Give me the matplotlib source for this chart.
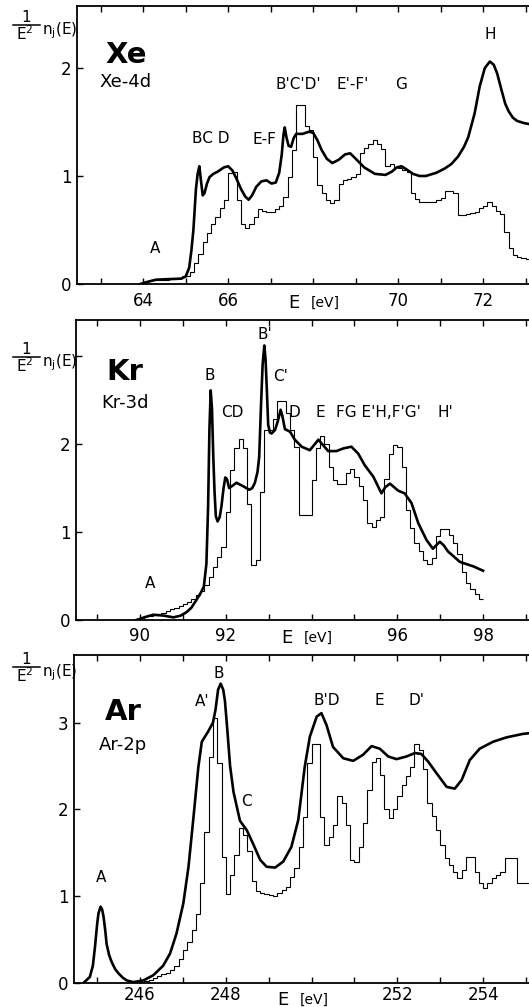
import numpy as np
import matplotlib
matplotlib.use('Agg')
from matplotlib import pyplot as plt
from matplotlib.lines import Line2D

W, H = 529, 1007
BIN = 0.1

# ---- Xe 4d ----
xe_calc_e = [63.93, 64.1, 64.3, 64.6, 64.9, 65.0, 65.08, 65.13, 65.18, 65.24, 65.28, 65.32,
             65.36, 65.4, 65.44, 65.5, 65.56, 65.65, 65.75, 65.9, 66.0, 66.1, 66.2, 66.3,
             66.4, 66.48, 66.56, 66.66, 66.78, 66.9, 67.02, 67.12, 67.2, 67.26, 67.3, 67.33,
             67.37, 67.42, 67.48, 67.54, 67.6, 67.75, 67.9, 68.0, 68.1, 68.2, 68.32, 68.45,
             68.6, 68.75, 68.87, 69.0, 69.2, 69.45, 69.7, 69.85, 69.97, 70.08, 70.2, 70.35,
             70.5, 70.65, 70.9, 71.1, 71.25, 71.41, 71.55, 71.65, 71.8, 71.92, 72.04, 72.16,
             72.25, 72.33, 72.43, 72.52, 72.6, 72.7, 72.8, 72.96, 73.1]
xe_calc_v = [0.0, 0.02, 0.04, 0.045, 0.05, 0.07, 0.15, 0.3, 0.5, 0.88, 1.02, 1.09,
             0.95, 0.82, 0.84, 0.93, 0.99, 1.02, 1.04, 1.08, 1.09, 1.05, 0.97, 0.88,
             0.81, 0.78, 0.82, 0.90, 0.95, 0.96, 0.93, 0.94, 1.03, 1.2, 1.38, 1.45,
             1.36, 1.28, 1.27, 1.35, 1.39, 1.39, 1.41, 1.40, 1.33, 1.24, 1.16, 1.12,
             1.15, 1.20, 1.21, 1.16, 1.08, 1.02, 1.01, 1.04, 1.08, 1.09, 1.06, 1.02,
             1.00, 1.00, 1.03, 1.07, 1.11, 1.18, 1.27, 1.36, 1.58, 1.83, 2.00, 2.06,
             2.03, 1.95, 1.80, 1.67, 1.60, 1.54, 1.51, 1.49, 1.48]
xe_hist_start = 64.0
xe_hist_v = [0.02, 0.03, 0.04, 0.04, 0.04, 0.04, 0.05, 0.05, 0.06, 0.07,
             0.07, 0.11, 0.19, 0.28, 0.39, 0.47, 0.56, 0.62, 0.70, 0.78,
             1.03, 1.04, 0.78, 0.56, 0.52, 0.56, 0.62, 0.69, 0.68, 0.67,
             0.67, 0.69, 0.72, 0.81, 0.99, 1.24, 1.66, 1.66, 1.46, 1.43,
             1.18, 0.92, 0.84, 0.78, 0.75, 0.78, 0.93, 0.96, 0.97, 0.99,
             1.02, 1.21, 1.26, 1.30, 1.33, 1.30, 1.25, 1.09, 1.11, 1.08,
             1.07, 1.06, 1.04, 0.84, 0.79, 0.76, 0.76, 0.76, 0.76, 0.78,
             0.80, 0.86, 0.86, 0.84, 0.64, 0.64, 0.65, 0.66, 0.67, 0.70,
             0.72, 0.76, 0.72, 0.68, 0.65, 0.48, 0.33, 0.27, 0.25, 0.24,
             0.23]
xe_xticks = list(range(63, 74))
xe_xlabels = ['', '64', '', '66', '', '', '', '70', '', '72', '']
xe_yticks = [0, 1, 2]
xe_ylabels = ['0', '1', '2']
xe_peaks = [('A', 64.28, 0.33), ('BC D', 65.59, 1.35), ('E-F', 66.86, 1.34),
            ("B'C'D'", 67.65, 1.85), ("E'-F'", 68.93, 1.85), ('G', 70.08, 1.85),
            ('H', 72.16, 2.31)]

# ---- Kr 3d ----
kr_calc_e = [89.92, 90.1, 90.31, 90.55, 90.78, 90.95, 91.09, 91.2, 91.32, 91.42, 91.49, 91.55,
             91.59, 91.62, 91.65, 91.68, 91.71, 91.74, 91.77, 91.81, 91.86, 91.9, 91.95, 91.99,
             92.03, 92.08, 92.17, 92.25, 92.41, 92.55, 92.62, 92.68, 92.74, 92.78, 92.82, 92.86,
             92.9, 92.93, 92.96, 92.99, 93.03, 93.07, 93.15, 93.22, 93.28, 93.32, 93.38, 93.5,
             93.61, 93.77, 93.96, 94.08, 94.16, 94.23, 94.39, 94.58, 94.74, 94.93, 95.09, 95.24,
             95.44, 95.63, 95.72, 95.83, 96.02, 96.17, 96.33, 96.49, 96.68, 96.83, 96.99, 97.08,
             97.18, 97.46, 97.77, 98.0]
kr_calc_v = [0.0, 0.03, 0.06, 0.05, 0.03, 0.05, 0.09, 0.14, 0.23, 0.31, 0.38, 0.64,
             1.3, 2.16, 2.61, 2.4, 1.86, 1.45, 1.18, 1.12, 1.17, 1.29, 1.5, 1.62,
             1.6, 1.5, 1.53, 1.56, 1.52, 1.48, 1.5, 1.56, 1.68, 1.85, 2.4, 2.9,
             3.12, 2.95, 2.6, 2.22, 2.13, 2.12, 2.16, 2.27, 2.39, 2.32, 2.17, 2.14,
             2.05, 1.97, 1.93, 2.0, 2.05, 2.01, 1.92, 1.92, 1.95, 1.97, 1.89, 1.76,
             1.63, 1.44, 1.51, 1.55, 1.47, 1.44, 1.33, 1.1, 0.91, 0.81, 0.89, 0.85,
             0.78, 0.66, 0.61, 0.56]
kr_hist_start = 90.0
kr_hist_v = [0.02, 0.04, 0.05, 0.06, 0.07, 0.08, 0.10, 0.12, 0.14, 0.16,
             0.18, 0.21, 0.24, 0.28, 0.33, 0.40, 0.49, 0.60, 0.72, 0.83,
             1.23, 1.70, 1.95, 2.06, 1.95, 1.32, 0.63, 0.68, 1.45, 2.16,
             2.16, 2.29, 2.49, 2.49, 2.35, 2.16, 1.97, 1.19, 1.19, 1.19,
             1.59, 1.95, 2.09, 2.00, 1.74, 1.59, 1.55, 1.55, 1.67, 1.72,
             1.63, 1.52, 1.36, 1.10, 1.06, 1.14, 1.17, 1.60, 1.89, 1.99,
             1.97, 1.74, 1.25, 1.05, 0.87, 0.78, 0.68, 0.64, 0.70, 0.95,
             1.03, 1.04, 0.97, 0.88, 0.75, 0.55, 0.42, 0.35, 0.29, 0.24]
kr_xticks = list(range(89, 100))
kr_xlabels = ['', '90', '', '92', '', '', '', '96', '', '98', '']
kr_yticks = [0, 1, 2, 3]
kr_ylabels = ['0', '1', '2', '']
kr_peaks = [('A', 90.23, 0.41), ('B', 91.63, 2.78), ('CD', 92.15, 2.36), ("B'", 92.91, 3.24),
            ("C'", 93.29, 2.77), ('D', 93.61, 2.36), ('E', 94.21, 2.36),
            ("FG E'H,F'G'", 95.56, 2.36), ("H'", 97.11, 2.36)]

# ---- Ar 2p ----
ar_calc_e = [244.68, 244.83, 244.9, 244.95, 245.0, 245.03, 245.08, 245.12, 245.15, 245.19,
             245.22, 245.28, 245.34, 245.42, 245.5, 245.6, 245.69, 245.84, 246.08, 246.31,
             246.54, 246.7, 246.85, 247.01, 247.13, 247.24, 247.36, 247.44, 247.59, 247.7,
             247.76, 247.82, 247.88, 247.94, 247.98, 248.03, 248.1, 248.18, 248.33, 248.49,
             248.64, 248.8, 248.95, 249.15, 249.34, 249.53, 249.69, 249.84, 249.96, 250.12,
             250.23, 250.35, 250.5, 250.74, 250.97, 251.2, 251.4, 251.59, 251.79, 251.98,
             252.21, 252.41, 252.56, 252.72, 252.91, 253.15, 253.34, 253.5, 253.69, 253.92,
             254.23, 254.54, 254.92, 255.1]
ar_calc_v = [0.0, 0.07, 0.2, 0.42, 0.68, 0.8, 0.88, 0.84, 0.76, 0.6,
             0.45, 0.32, 0.24, 0.16, 0.11, 0.06, 0.03, 0.01, 0.03, 0.09,
             0.2, 0.34, 0.57, 0.92, 1.34, 1.88, 2.49, 2.78, 2.9, 3.0,
             3.15, 3.38, 3.45, 3.38, 3.25, 2.95, 2.5, 2.2, 1.87, 1.76,
             1.6, 1.42, 1.34, 1.33, 1.4, 1.57, 1.88, 2.49, 2.84, 3.07,
             3.11, 2.97, 2.72, 2.59, 2.56, 2.63, 2.73, 2.7, 2.61, 2.58,
             2.61, 2.65, 2.64, 2.55, 2.42, 2.26, 2.24, 2.34, 2.57, 2.7,
             2.78, 2.83, 2.87, 2.88]
ar_hist_start = 246.0
ar_hist_v = [0.01, 0.02, 0.04, 0.06, 0.08, 0.10, 0.12, 0.15, 0.20, 0.28,
             0.38, 0.47, 0.61, 0.80, 1.15, 1.74, 2.60, 3.05, 2.53, 1.45,
             1.02, 1.25, 1.48, 1.79, 1.71, 1.52, 1.17, 1.06, 1.04, 1.02,
             1.01, 1.00, 1.04, 1.07, 1.11, 1.22, 1.33, 1.57, 1.91, 2.53,
             2.76, 2.76, 1.91, 1.59, 1.68, 1.82, 2.15, 2.07, 1.82, 1.42,
             1.40, 1.57, 1.84, 2.22, 2.55, 2.59, 2.40, 2.01, 1.90, 2.01,
             2.16, 2.28, 2.38, 2.49, 2.76, 2.68, 2.47, 2.07, 1.92, 1.76,
             1.59, 1.44, 1.36, 1.28, 1.21, 1.30, 1.45, 1.45, 1.28, 1.15,
             1.09, 1.15, 1.21, 1.25, 1.28, 1.44, 1.44, 1.44, 1.15, 1.15,
             1.15]
ar_xticks = list(range(245, 256))
ar_xlabels = ['', '246', '', '248', '', '', '', '252', '', '254', '']
ar_yticks = [0, 1, 2, 3]
ar_ylabels = ['0', '1', '2', '3']
ar_peaks = [('A', 245.08, 1.22), ("A'", 247.45, 3.24), ('B', 247.84, 3.57), ('C', 248.49, 2.09),
            ("B'D", 250.35, 3.25), ('E', 251.57, 3.25), ("D'", 252.45, 3.25)]


def fig_xy(px, py):
    return px / W, 1 - py / H


def density_label(fig, bar_y):
    # 1/E^2 n_j(E) written out by hand: numerator, bar, denominator, factor
    fig.text(*fig_xy(26, bar_y - 7), '1', ha='center', va='center', fontsize=11)
    fig.add_artist(Line2D([13 / W, 40 / W], [1 - bar_y / H] * 2,
                          transform=fig.transFigure, color='k', lw=1.1))
    fig.text(*fig_xy(25, bar_y + 8.5), r'E$^{\mathregular{2}}$', ha='center', va='center',
             fontsize=11)
    fig.text(*fig_xy(42, bar_y + 6), r'n$_{\mathregular{j}}$(E)', ha='left', va='center',
             fontsize=11)


def panel(fig, box, xlim, ylim, calc_e, calc_v, hist_start, hist_v,
          xticks, xlabels, yticks, ylabels, peaks, name, shell, elabel_px, bar_y, xpad):
    l, t, r, b = box
    ax = fig.add_axes([l / W, 1 - b / H, (r - l) / W, (b - t) / H])
    edges = hist_start + BIN * np.arange(len(hist_v) + 1)
    ax.stairs(hist_v, edges, baseline=None, color='k', lw=0.8)
    ax.plot(calc_e, calc_v, color='k', lw=1.9, solid_joinstyle='round')
    ax.set_xlim(*xlim)
    ax.set_ylim(*ylim)
    ax.set_xticks(xticks)
    ax.set_xticklabels(xlabels)
    ax.set_yticks(yticks)
    ax.set_yticklabels(ylabels)
    ax.tick_params(direction='in', top=True, right=False, length=4, width=1,
                   labelsize=12, pad=4)
    ax.tick_params(axis='x', pad=xpad)
    ax.spines['right'].set_visible(False)
    for s in ('left', 'top', 'bottom'):
        ax.spines[s].set_linewidth(1.3)
    for lab, e, v in peaks:
        ax.text(e, v, lab, ha='center', va='center', fontsize=11)
    ax.text(0.108, 0.825, name, transform=ax.transAxes, ha='center', va='center',
            fontsize=21, fontweight='bold')
    ax.text(0.108, 0.725, shell, transform=ax.transAxes, ha='center', va='center',
            fontsize=13)
    ex, ey = elabel_px
    fig.text(*fig_xy(ex, ey), 'E', ha='center', va='center', fontsize=13)
    fig.text(*fig_xy(ex + 31, ey), '[eV]', ha='center', va='center', fontsize=10)
    density_label(fig, bar_y)
    return ax


fig = plt.figure(figsize=(W / 100, H / 100), dpi=100)

panel(fig, (77, 6, 529, 284), (62.44, 73.08), (0, 2.574),
      xe_calc_e, xe_calc_v, xe_hist_start, xe_hist_v,
      xe_xticks, xe_xlabels, xe_yticks, xe_ylabels, xe_peaks,
      'Xe', 'Xe-4d', (294, 303), 25, 6)

panel(fig, (76, 320, 529, 620), (88.51, 99.07), (0, 3.41),
      kr_calc_e, kr_calc_v, kr_hist_start, kr_hist_v,
      kr_xticks, kr_xlabels, kr_yticks, kr_ylabels, kr_peaks,
      'Kr', 'Kr-3d', (287, 638), 357, 5)

panel(fig, (74, 655, 529, 983), (244.46, 255.07), (0, 3.78),
      ar_calc_e, ar_calc_v, ar_hist_start, ar_hist_v,
      ar_xticks, ar_xlabels, ar_yticks, ar_ylabels, ar_peaks,
      'Ar', 'Ar-2p', (283, 1000), 667, 2)

fig.savefig('out.png', dpi=100)
